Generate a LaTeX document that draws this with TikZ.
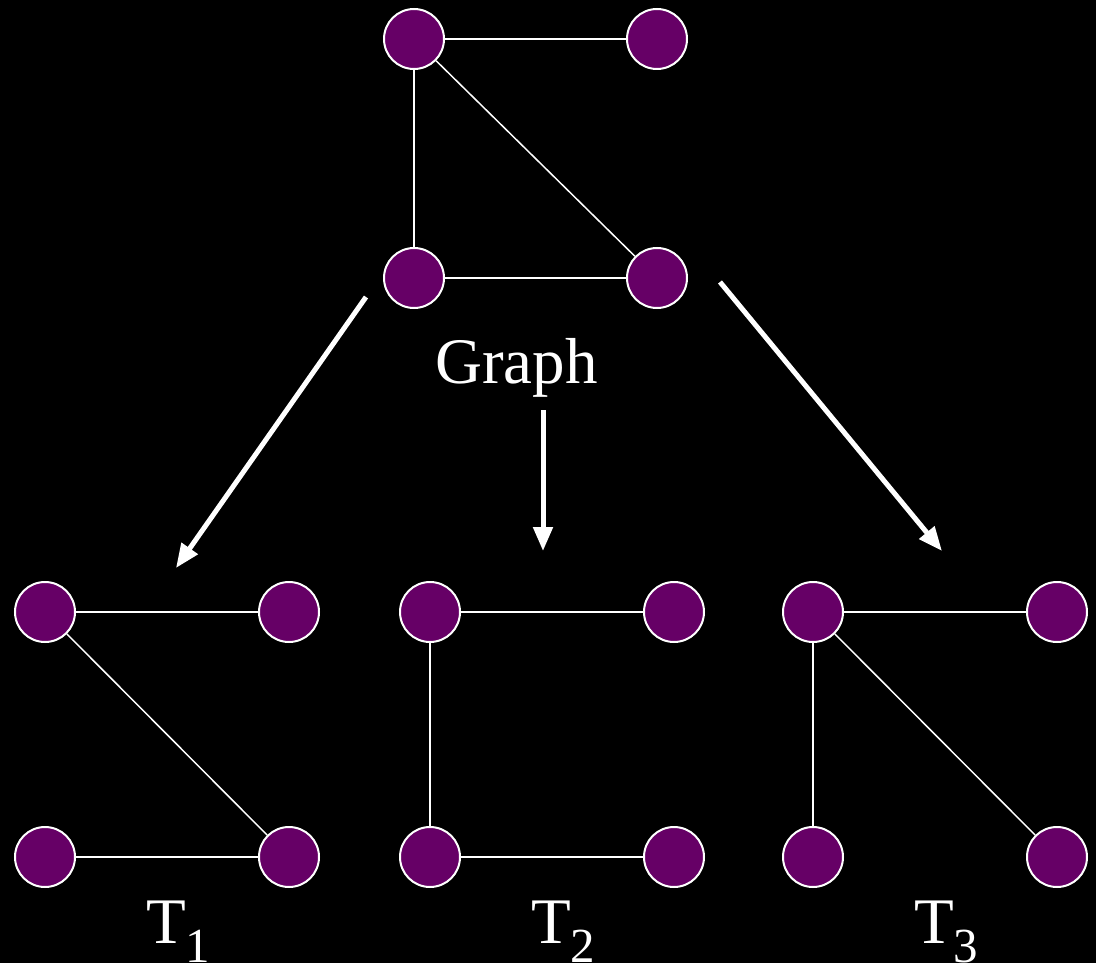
\documentclass[tikz,border=0pt]{standalone}
\usepackage{fontspec}
\setmainfont{Liberation Serif}
\usetikzlibrary{arrows.meta}
\definecolor{vertexpurple}{HTML}{660066}
\tikzset{
  vertex node/.style={circle,draw=white,line width=2pt,fill=vertexpurple,
    minimum size=60pt,inner sep=0pt},
  graph edge/.style={draw=white,line width=1.5pt},
  tree arrow/.style={-{Triangle[length=24pt,width=19pt]},line width=5pt,white},
  tree label/.style={anchor=base west,inner sep=0pt,text=white,
    font=\fontsize{65}{78}\selectfont},
}
\newcommand{\treesub}[1]{\raisebox{-19pt}{\fontsize{49}{54}\selectfont #1}}

\begin{document}
\begin{tikzpicture}[x=1pt,y=-1pt]
  \fill[black] (0,0) rectangle (1096,963);
  \useasboundingbox (0,0) rectangle (1096,963);

  % The graph itself.
  \node[vertex node] (ga) at (414,39) {};
  \node[vertex node] (gb) at (657,39) {};
  \node[vertex node] (gc) at (414,278) {};
  \node[vertex node] (gd) at (657,278) {};
  \draw[graph edge] (ga)--(gb);
  \draw[graph edge] (ga)--(gc);
  \draw[graph edge] (ga)--(gd);
  \draw[graph edge] (gc)--(gd);
  \node[tree label] (graphlabel) at (435,383) {Graph};

  % Three spanning trees below it.
  \foreach \t/\x in {1/45,2/430,3/813}{
    \node[vertex node] (t\t a) at (\x,612) {};
    \node[vertex node] (t\t b) at (\x+244,612) {};
    \node[vertex node] (t\t c) at (\x,857) {};
    \node[vertex node] (t\t d) at (\x+244,857) {};
    \draw[graph edge] (t\t a)--(t\t b);
    \node[tree label] (t\t label) at (\x+101,943) {T\treesub{\t}};
  }
  \draw[graph edge] (t1a)--(t1d);
  \draw[graph edge] (t1c)--(t1d);
  \draw[graph edge] (t2a)--(t2c);
  \draw[graph edge] (t2c)--(t2d);
  \draw[graph edge] (t3a)--(t3c);
  \draw[graph edge] (t3a)--(t3d);

  % Arrows from the graph to each tree.
  \coordinate (aleftstart) at (366,297);
  \coordinate (aleftend) at (176,568);
  \coordinate (amidstart) at (543,410);
  \coordinate (amidend) at (543,551);
  \coordinate (arightstart) at (720,282);
  \coordinate (arightend) at (942,551);
  \draw[tree arrow] (aleftstart)--(aleftend);
  \draw[tree arrow] (amidstart)--(amidend);
  \draw[tree arrow] (arightstart)--(arightend);
\end{tikzpicture}
\end{document}
